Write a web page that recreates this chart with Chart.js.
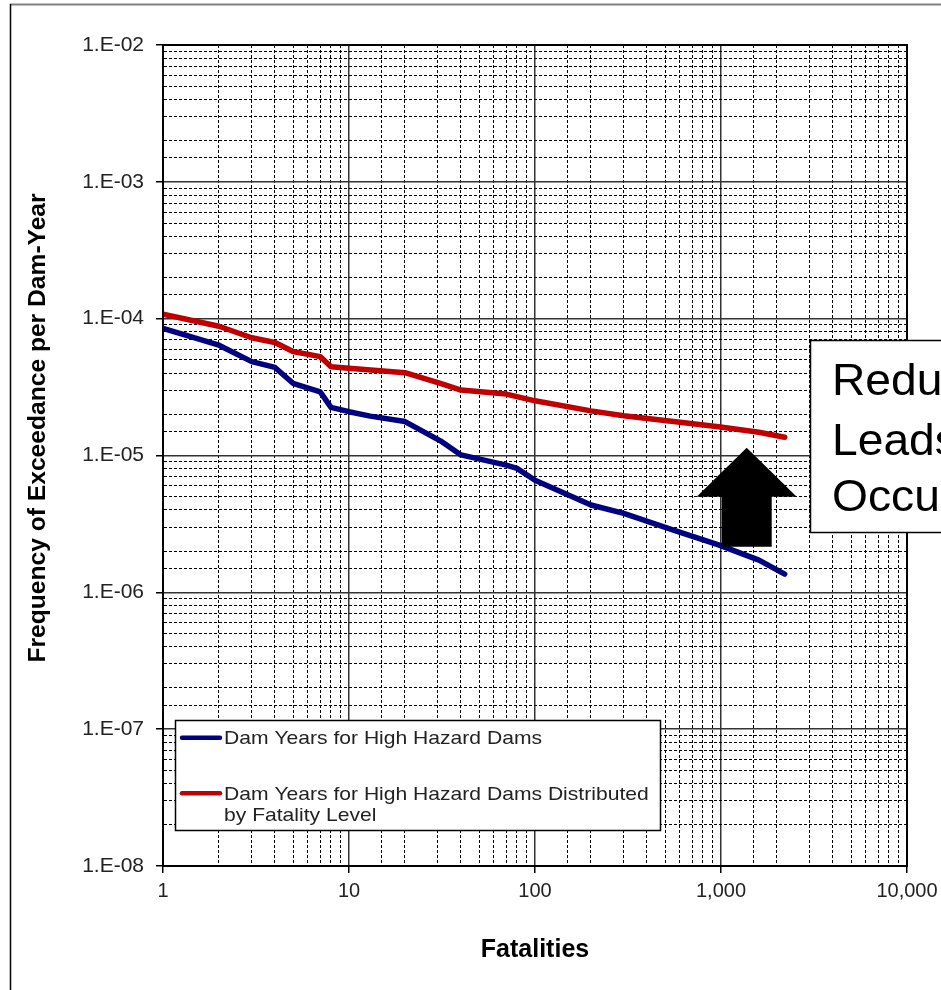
<!DOCTYPE html>
<html>
<head>
<meta charset="utf-8">
<script src="https://cdn.jsdelivr.net/npm/chart.js@4.4.1/dist/chart.umd.min.js"></script>
<style>
  html, body { margin: 0; padding: 0; background: #fff; }
  #wrap { width: 941px; height: 990px; }
</style>
</head>
<body>
<div id="wrap"><canvas id="fnChart" width="941" height="990"></canvas></div>
<script>
// F-N curves: fatalities vs. frequency of exceedance
const blueFatalities = [1, 2, 3, 4, 5, 7, 8, 10, 13, 20, 31, 40, 70, 80, 100, 200, 300, 555, 970, 1600, 2200];
const blueFrequency = [8.5e-5, 6.4e-5, 4.85e-5, 4.4e-5, 3.37e-5, 2.92e-5, 2.25e-5, 2.09e-5, 1.94e-5, 1.77e-5,
                       1.28e-5, 1.01e-5, 8.5e-6, 8.05e-6, 6.6e-6, 4.35e-6, 3.78e-6, 2.85e-6, 2.22e-6, 1.72e-6, 1.36e-6];
const redFatalities = [1, 2, 3, 4, 5, 7, 8, 10, 20, 31, 40, 70, 80, 100, 200, 300, 555, 970, 1600, 2200];
const redFrequency = [1.08e-4, 8.8e-5, 7.25e-5, 6.7e-5, 5.75e-5, 5.28e-5, 4.45e-5, 4.34e-5, 4.03e-5, 3.37e-5,
                      3.01e-5, 2.81e-5, 2.69e-5, 2.51e-5, 2.12e-5, 1.95e-5, 1.77e-5, 1.62e-5, 1.48e-5, 1.36e-5];

const seriesLabels = ['Dam Years for High Hazard Dams',
                      'Dam Years for High Hazard Dams Distributed by Fatality Level'];
const seriesColors = ['#000080', '#c00000'];

// tick labels for the decades
const xTickLabels = ['1', '10', '100', '1,000', '10,000'];          // 10^0 .. 10^4
const yTickLabels = ['1.E-08', '1.E-07', '1.E-06', '1.E-05', '1.E-04', '1.E-03', '1.E-02']; // 10^-8 .. 10^-2

const calloutLines = ['Redu', 'Leads', 'Occu'];
const FONT = '"Liberation Sans", Arial, sans-serif';

function decadeIndex(v) {
    const e = Math.round(Math.log10(v));
    return Math.abs(v / Math.pow(10, e) - 1) < 1e-6 ? e : null;
}
function isMajor(ctx) {
    return ctx.tick ? decadeIndex(ctx.tick.value) !== null : false;
}

const gridOpts = {
    color: ctx => isMajor(ctx) ? '#333' : '#000',
    lineWidth: ctx => isMajor(ctx) ? 1.5 : 1,
    tickLength: 7,
    tickColor: ctx => isMajor(ctx) ? '#000' : 'rgba(0,0,0,0)'
};
const borderOpts = {
    color: '#000',
    width: 2,
    dash: ctx => (ctx.tick && !isMajor(ctx)) ? [3, 2] : []
};

// outer frame and white background
const framePlugin = {
    id: 'frame',
    beforeDraw(chart) {
        const ctx = chart.ctx;
        ctx.save();
        ctx.fillStyle = '#fff';
        ctx.fillRect(0, 0, chart.width, chart.height);
        ctx.strokeStyle = '#808080';
        ctx.lineWidth = 2;
        ctx.beginPath();
        ctx.moveTo(10, 4.5);
        ctx.lineTo(chart.width, 4.5);
        ctx.stroke();
        ctx.strokeStyle = '#000';
        ctx.lineWidth = 1.5;
        ctx.beginPath();
        ctx.moveTo(10.5, 4);
        ctx.lineTo(10.5, chart.height);
        ctx.stroke();
        ctx.restore();
    }
};

// plot border, y title, legend box, arrow and callout
const extrasPlugin = {
    id: 'extras',
    afterDraw(chart) {
        const ctx = chart.ctx;
        const a = chart.chartArea;
        ctx.save();

        ctx.strokeStyle = '#000';
        ctx.lineWidth = 2;
        ctx.strokeRect(a.left, a.top, a.right - a.left, a.bottom - a.top);

        // y axis title
        ctx.save();
        ctx.translate(45, 428);
        ctx.rotate(-Math.PI / 2);
        ctx.scale(1.07, 1);
        ctx.font = 'bold 23px ' + FONT;
        ctx.fillStyle = '#000';
        ctx.textAlign = 'center';
        ctx.textBaseline = 'alphabetic';
        ctx.fillText('Frequency of Exceedance per Dam-Year', 0, 0);
        ctx.restore();

        // legend
        ctx.fillStyle = '#fff';
        ctx.fillRect(175.5, 720.5, 485, 110);
        ctx.strokeStyle = '#000';
        ctx.lineWidth = 1.5;
        ctx.strokeRect(175.5, 720.5, 485, 110);
        const rows = [{ sy: 737.7, ty: 744.3 }, { sy: 793.3, ty: 800 }];
        chart.data.datasets.forEach((ds, i) => {
            ctx.strokeStyle = ds.borderColor;
            ctx.lineWidth = 4.5;
            ctx.lineCap = 'round';
            ctx.beginPath();
            ctx.moveTo(182, rows[i].sy);
            ctx.lineTo(220, rows[i].sy);
            ctx.stroke();
            ctx.save();
            ctx.translate(224, rows[i].ty);
            ctx.scale(1.11, 1);
            ctx.font = '19px ' + FONT;
            ctx.fillStyle = '#222';
            ctx.textAlign = 'left';
            ctx.textBaseline = 'alphabetic';
            // wrap to legend width
            const words = ds.label.split(' ');
            let line = '', y = 0;
            words.forEach(w => {
                const test = line ? line + ' ' + w : w;
                if (ctx.measureText(test).width * 1.11 > 432 && line) {
                    ctx.fillText(line, 0, y);
                    line = w;
                    y += 20.7;
                } else {
                    line = test;
                }
            });
            ctx.fillText(line, 0, y);
            ctx.restore();
        });

        // up arrow
        ctx.fillStyle = '#000';
        ctx.beginPath();
        ctx.moveTo(746.7, 447.7);
        ctx.lineTo(796.7, 496.7);
        ctx.lineTo(771.7, 496.7);
        ctx.lineTo(771.7, 546.7);
        ctx.lineTo(721.7, 546.7);
        ctx.lineTo(721.7, 496.7);
        ctx.lineTo(696.7, 496.7);
        ctx.closePath();
        ctx.fill();

        // callout box (cut by the right edge)
        ctx.fillStyle = '#fff';
        ctx.fillRect(810.5, 340.5, 200, 192);
        ctx.strokeStyle = '#000';
        ctx.lineWidth = 1.5;
        ctx.strokeRect(810.5, 340.5, 200, 192);
        ctx.fillStyle = '#000';
        ctx.textAlign = 'left';
        ctx.textBaseline = 'alphabetic';
        const baselines = [395, 455, 511];
        calloutLines.forEach((t, i) => {
            ctx.save();
            ctx.translate(832, baselines[i]);
            ctx.scale(1.05, 1);
            ctx.font = '44px ' + FONT;
            ctx.fillText(t, 0, 0);
            ctx.restore();
        });

        ctx.restore();
    }
};

const chart = new Chart(document.getElementById('fnChart').getContext('2d'), {
    type: 'line',
    data: {
        datasets: [
            {
                label: seriesLabels[0],
                data: blueFatalities.map((x, i) => ({ x: x, y: blueFrequency[i] })),
                borderColor: seriesColors[0],
                borderWidth: 5.5,
                pointRadius: 0,
                tension: 0,
                borderCapStyle: 'round',
                borderJoinStyle: 'round',
                fill: false
            },
            {
                label: seriesLabels[1],
                data: redFatalities.map((x, i) => ({ x: x, y: redFrequency[i] })),
                borderColor: seriesColors[1],
                borderWidth: 5.5,
                pointRadius: 0,
                tension: 0,
                borderCapStyle: 'round',
                borderJoinStyle: 'round',
                fill: false
            }
        ]
    },
    options: {
        responsive: false,
        devicePixelRatio: 1,
        animation: false,
        layout: { padding: { left: 11, top: 45, right: 34, bottom: 0 } },
        plugins: {
            legend: { display: false },
            tooltip: { enabled: false }
        },
        scales: {
            x: {
                type: 'logarithmic',
                min: 1,
                max: 10000,
                afterFit: s => { s.height = 124; s.paddingRight = 0; s.paddingLeft = 0; },
                grid: gridOpts,
                border: borderOpts,
                ticks: {
                    autoSkip: false,
                    maxRotation: 0,
                    padding: 6,
                    color: '#222',
                    font: { family: FONT, size: 20 },
                    callback: v => {
                        const e = decadeIndex(v);
                        return e === null ? '' : xTickLabels[e];
                    }
                },
                title: {
                    display: true,
                    text: 'Fatalities',
                    color: '#000',
                    font: { family: FONT, size: 25, weight: 'bold' },
                    padding: { top: 0, bottom: 25 }
                }
            },
            y: {
                type: 'logarithmic',
                min: 1e-8,
                max: 1e-2,
                afterFit: s => { s.width = 152; },
                grid: gridOpts,
                border: borderOpts,
                ticks: {
                    autoSkip: false,
                    padding: 12,
                    color: '#222',
                    font: { family: FONT, size: 21 },
                    callback: v => {
                        const e = decadeIndex(v);
                        return e === null ? '' : yTickLabels[e + 8];
                    }
                }
            }
        }
    },
    plugins: [framePlugin, extrasPlugin]
});
</script>
</body>
</html>
